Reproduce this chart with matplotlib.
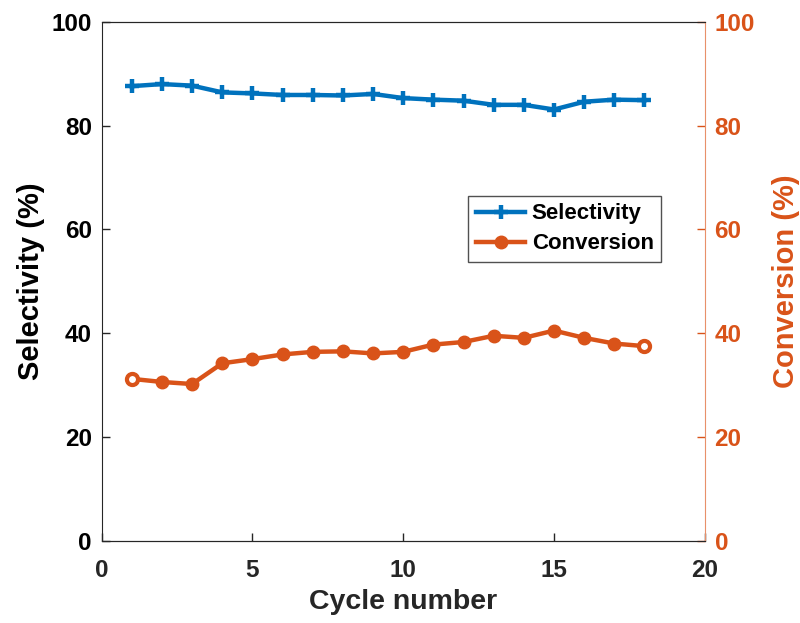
import matplotlib
matplotlib.use("Agg")
import matplotlib.pyplot as plt

plt.rcParams['font.family'] = ['Liberation Sans', 'DejaVu Sans']
plt.rcParams['font.weight'] = 'bold'

cycles = list(range(1, 19))
selectivity = [87.6, 88.0, 87.7, 86.4, 86.2, 85.9, 85.9, 85.8, 86.1, 85.3,
               85.0, 84.8, 84.0, 84.0, 83.1, 84.6, 85.0, 84.9]
conversion = [31.2, 30.6, 30.2, 34.2, 35.0, 35.9, 36.4, 36.5, 36.1, 36.4,
              37.8, 38.3, 39.5, 39.1, 40.5, 39.1, 38.0, 37.5]
xticks = [0, 5, 10, 15, 20]
yticks = [0, 20, 40, 60, 80, 100]

blue = '#0072BD'
orange = '#D95319'

fig = plt.figure(figsize=(8, 6.23), dpi=100)
ax = fig.add_axes([0.127, 0.132, 0.754, 0.833])
ax2 = ax.twinx()

l1, = ax.plot(cycles, selectivity, color=blue, lw=3.2, marker='+', ms=10, mew=3.2, label='Selectivity')
l2, = ax2.plot(cycles, conversion, color=orange, lw=3.2, marker='o', ms=9, label='Conversion')
# end markers appear hollow in the reference
ends = [0, len(cycles) - 1]
ax2.plot([cycles[i] for i in ends], [conversion[i] for i in ends], ls='none',
         marker='o', ms=8, mfc='white', mec=orange, mew=3)

for a in (ax, ax2):
    a.set_xlim(0, 20)
    a.set_ylim(0, 100)
    a.set_yticks(yticks)
ax.set_xticks(xticks)

ax.tick_params(direction='in', length=6, width=1, labelsize=17.5, colors='#262626')
ax.tick_params(axis='x', pad=13)
ax.tick_params(axis='y', labelcolor='black', pad=7)
ax2.tick_params(direction='in', length=6, width=1, labelsize=17.5, colors=orange, pad=7)

for s in ['left', 'bottom', 'top']:
    ax.spines[s].set_color('#262626')
    ax2.spines[s].set_color('#262626')
ax.spines['right'].set_visible(False)
ax2.spines['right'].set_color('#E8906A')
ax2.spines['left'].set_visible(False)

ax.set_xlabel('Cycle number', fontsize=20.5, fontweight='bold', color='#262626', labelpad=5)
ax.set_ylabel('Selectivity (%)', fontsize=21, fontweight='bold', color='black', labelpad=5)
ax2.set_ylabel('Conversion (%)', fontsize=21, fontweight='bold', color=orange, labelpad=12)

leg = ax2.legend(handles=[l1, l2], loc='upper left', bbox_to_anchor=(0.608, 0.665),
                 fontsize=16, frameon=True, fancybox=False, edgecolor='#262626',
                 handlelength=2.2, handletextpad=0.3, borderpad=0.35, labelspacing=0.4,
                 borderaxespad=0)
leg.get_frame().set_linewidth(1)
for t in leg.get_texts():
    t.set_fontweight('bold')

fig.savefig('out.png', dpi=100)
